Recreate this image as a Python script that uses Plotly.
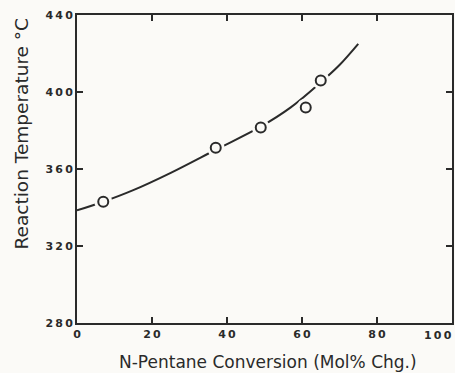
import plotly.graph_objects as go

# Measured runs: conversion (mol % change) vs. reaction temperature (deg C)
conversion = [7, 37, 49, 61, 65]
temperature = [343, 371, 381.5, 392, 406]

# Hand-drawn trend curve through the runs
curve_x = [0, 7, 15, 25, 37, 49, 57, 65, 70, 75]
curve_y = [338.5, 343, 349, 358, 370, 382, 392, 405, 414, 425]

x_ticks = [0, 20, 40, 60, 80, 100]
x_tick_text = ["0", "2\u20090", "4\u20090", "6\u20090", "8\u20090", "1\u20090\u20090"]
y_ticks = [280, 320, 360, 400, 440]
y_tick_text = ["2\u20098\u20090", "3\u20092\u20090", "3\u20096\u20090", "4\u20090\u20090", "4\u20094\u20090"]

ink = "#2a2a2a"
tick_font = dict(family="DejaVu Sans", size=11, color=ink, weight="bold")

fig = go.Figure()

fig.add_trace(go.Scatter(
    x=curve_x, y=curve_y, mode="lines",
    line=dict(color=ink, width=2, shape="spline", smoothing=1.0),
    hoverinfo="skip", showlegend=False,
))
# White halo so the curve stops short of each circle
fig.add_trace(go.Scatter(
    x=conversion, y=temperature, mode="markers",
    marker=dict(symbol="circle", size=18, color="#fbfaf7", line=dict(width=0)),
    hoverinfo="skip", showlegend=False,
))
fig.add_trace(go.Scatter(
    x=conversion, y=temperature, mode="markers",
    marker=dict(symbol="circle-open", size=10, color=ink, line=dict(width=2, color=ink)),
    showlegend=False,
))

axis_common = dict(
    showgrid=False, zeroline=False, showline=True, linecolor=ink, linewidth=2,
    mirror="allticks", ticks="inside", ticklen=6, tickwidth=1.5, tickcolor=ink,
    tickfont=tick_font, automargin=False,
)

# The last x label sits flush against the right edge, so it is placed
# right-aligned on its tick instead of centred.
fig.update_xaxes(range=[0, 100], tickvals=x_ticks,
                 ticktext=x_tick_text[:-1] + [""], **axis_common)
fig.update_yaxes(range=[280, 440], tickvals=y_ticks, ticktext=y_tick_text, **axis_common)

fig.add_annotation(
    text=x_tick_text[-1], x=x_ticks[-1], xref="x", yref="paper", y=-0.041,
    xanchor="right", yanchor="middle", xshift=2, showarrow=False, font=tick_font,
)
fig.add_annotation(
    text="N-Pentane Conversion (Mol% Chg.)", xref="paper", yref="paper",
    x=0.51, y=-0.125, xanchor="center", yanchor="middle", showarrow=False,
    font=dict(family="DejaVu Sans", size=17, color=ink),
)
fig.add_annotation(
    text="Reaction Temperature \u00b0C", xref="paper", yref="paper",
    x=-0.147, y=0.615, xanchor="center", yanchor="middle", showarrow=False,
    textangle=-90, font=dict(family="DejaVu Sans", size=18.5, color=ink),
)

fig.update_layout(
    width=455, height=373,
    margin=dict(l=77, r=3, t=15, b=50),
    paper_bgcolor="#fbfaf7", plot_bgcolor="#fbfaf7",
)

fig.write_html("out.html")
